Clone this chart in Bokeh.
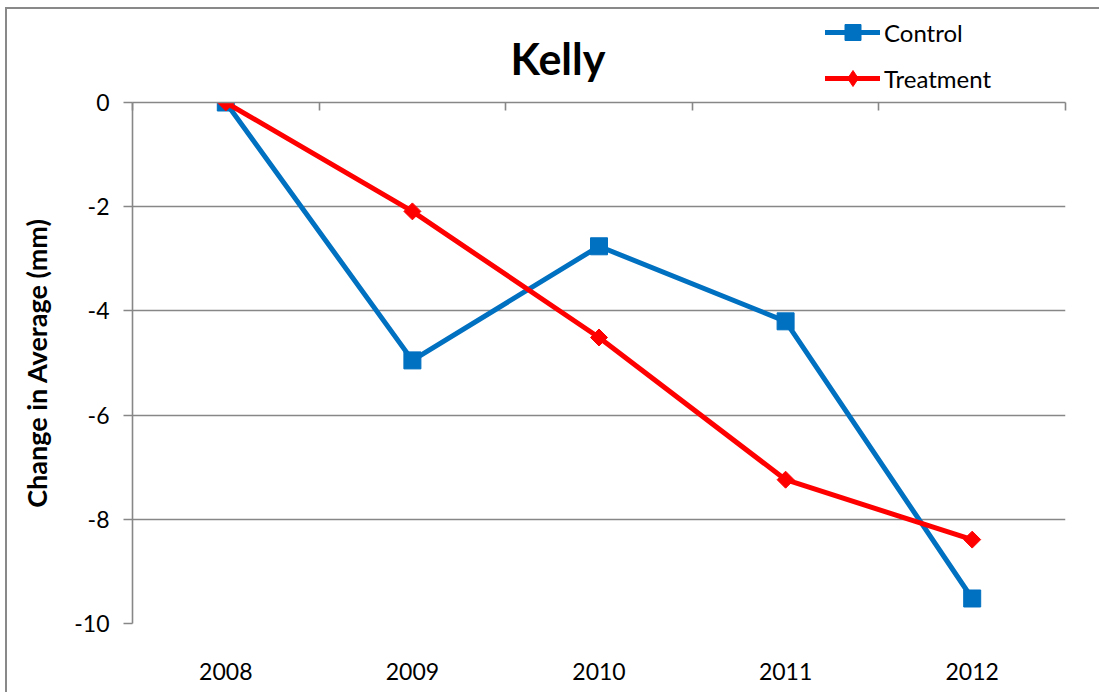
from bokeh.plotting import figure
from bokeh.layouts import column
from bokeh.models import (Range1d, LinearAxis, FixedTicker, Grid, Legend,
                          LegendItem, Label, ColumnDataSource)
from bokeh.embed import file_html
from bokeh.resources import INLINE
import math

# Data
years = ["2008", "2009", "2010", "2011", "2012"]
control = [0.0, -4.95, -2.76, -4.2, -9.52]
treatment = [0.0, -2.09, -4.51, -7.24, -8.39]
y_ticks = [-10, -8, -6, -4, -2, 0]
y_tick_labels = ["-10", "-8", "-6", "-4", "-2", "0"]

FONT = "Lato"
GRID = "#878787"
BLUE = "#0070C0"
RED = "#FF0000"
W = 1092
H = 683
HEAD_H = 89
OVERLAP = 10

xs = list(range(1, len(years) + 1))
src = ColumnDataSource(dict(x=xs, control=control, treatment=treatment))
x_range = Range1d(0.5, len(years) + 0.5)

# ---- header: title and legend ----
head = figure(width=W, height=HEAD_H, output_backend="svg", toolbar_location=None,
              x_range=x_range, y_range=Range1d(0, HEAD_H),
              x_axis_type=None, y_axis_type=None, title=None,
              min_border_left=125, min_border_right=34,
              min_border_top=0, min_border_bottom=0)
head.outline_line_color = None
head.xgrid.visible = False
head.ygrid.visible = False

nan = [float("nan")]
key_c_line = head.line(nan, nan, line_color=BLUE, line_width=5, line_cap="round")
key_c_mark = head.scatter(nan, nan, marker="square", fill_color=BLUE, line_color=BLUE)
key_t_line = head.line(nan, nan, line_color=RED, line_width=5, line_cap="round")
key_t_mark = head.scatter(nan, nan, marker="diamond", fill_color=RED, line_color=RED)

legend = Legend(items=[LegendItem(label="Control", renderers=[key_c_line, key_c_mark]),
                       LegendItem(label="Treatment", renderers=[key_t_line, key_t_mark])],
                location=(693, 0), orientation="vertical")
legend.glyph_width = 55
legend.glyph_height = 40
legend.label_height = 40
legend.spacing = 6
legend.padding = 0
legend.margin = 0
legend.label_standoff = 4
legend.label_text_font = FONT
legend.label_text_font_size = "24px"
legend.label_text_color = "black"
legend.border_line_color = None
legend.background_fill_alpha = 0
head.add_layout(legend, "center")

head.add_layout(Label(x=2.78, y=40, text="Kelly", text_align="center",
                      text_baseline="alphabetic", text_font=FONT,
                      text_font_style="bold", text_font_size="43px",
                      text_color="black"))

# ---- main chart ----
p = figure(width=W, height=H - HEAD_H + OVERLAP, output_backend="svg",
           toolbar_location=None,
           x_range=x_range, y_range=Range1d(-10, 0),
           x_axis_type=None, y_axis_type=None, title=None,
           min_border_left=125, min_border_right=34,
           min_border_top=93 - HEAD_H + OVERLAP, min_border_bottom=69)
p.outline_line_color = None
p.border_fill_color = None
p.background_fill_color = None
p.styles = {"margin-top": f"-{OVERLAP}px"}

# Horizontal gridlines
yticker = FixedTicker(ticks=y_ticks)
p.add_layout(Grid(dimension=1, ticker=yticker, grid_line_color=GRID,
                  grid_line_width=1.6))

# Value axis
yaxis = LinearAxis(ticker=yticker, axis_label="Change in Average (mm)",
                   major_label_overrides=dict(zip(y_ticks, y_tick_labels)))
yaxis.axis_line_color = GRID
yaxis.axis_line_width = 1.6
yaxis.major_tick_line_color = GRID
yaxis.major_tick_line_width = 1.6
yaxis.major_tick_out = 9
yaxis.major_tick_in = 0
yaxis.minor_tick_line_color = None
yaxis.major_label_text_font = FONT
yaxis.major_label_text_font_size = "23px"
yaxis.major_label_text_color = "black"
yaxis.major_label_standoff = 14
yaxis.axis_label_text_font = FONT
yaxis.axis_label_text_font_style = "bold"
yaxis.axis_label_text_font_size = "27px"
yaxis.axis_label_text_color = "black"
yaxis.axis_label_standoff = 18
p.add_layout(yaxis, "left")

# Category axis sits at zero (top), ticks between categories
bounds = [i + 0.5 for i in range(len(years) + 1)]
top = LinearAxis(ticker=FixedTicker(ticks=bounds),
                 major_label_overrides={b: "" for b in bounds})
top.axis_line_color = GRID
top.axis_line_width = 1.6
top.major_tick_line_color = GRID
top.major_tick_line_width = 1.6
top.major_tick_in = 8
top.major_tick_out = 0
top.minor_tick_line_color = None
top.major_label_standoff = 0
p.add_layout(top, "above")

# Category labels shown at the bottom
bottom = LinearAxis(ticker=FixedTicker(ticks=xs),
                    major_label_overrides={x: y for x, y in zip(xs, years)})
bottom.axis_line_color = None
bottom.major_tick_line_color = None
bottom.minor_tick_line_color = None
bottom.major_label_text_font = FONT
bottom.major_label_text_font_size = "23px"
bottom.major_label_text_color = "black"
bottom.major_label_standoff = 33
p.add_layout(bottom, "below")

# Series
p.line("x", "control", source=src, line_color=BLUE, line_width=5)
p.scatter("x", "control", source=src, marker="square", size=17,
          fill_color=BLUE, line_color=BLUE)
p.line("x", "treatment", source=src, line_color=RED, line_width=5)
p.scatter("x", "treatment", source=src, marker="square", size=12,
          angle=math.pi / 4, fill_color=RED, line_color=RED)

layout = column(head, p, spacing=0)
layout.styles = {"margin-left": "5px", "margin-top": "7px",
                 "border-left": "2px solid #898989", "border-top": "2px solid #898989"}

open("out.html", "w").write(file_html(layout, INLINE))
